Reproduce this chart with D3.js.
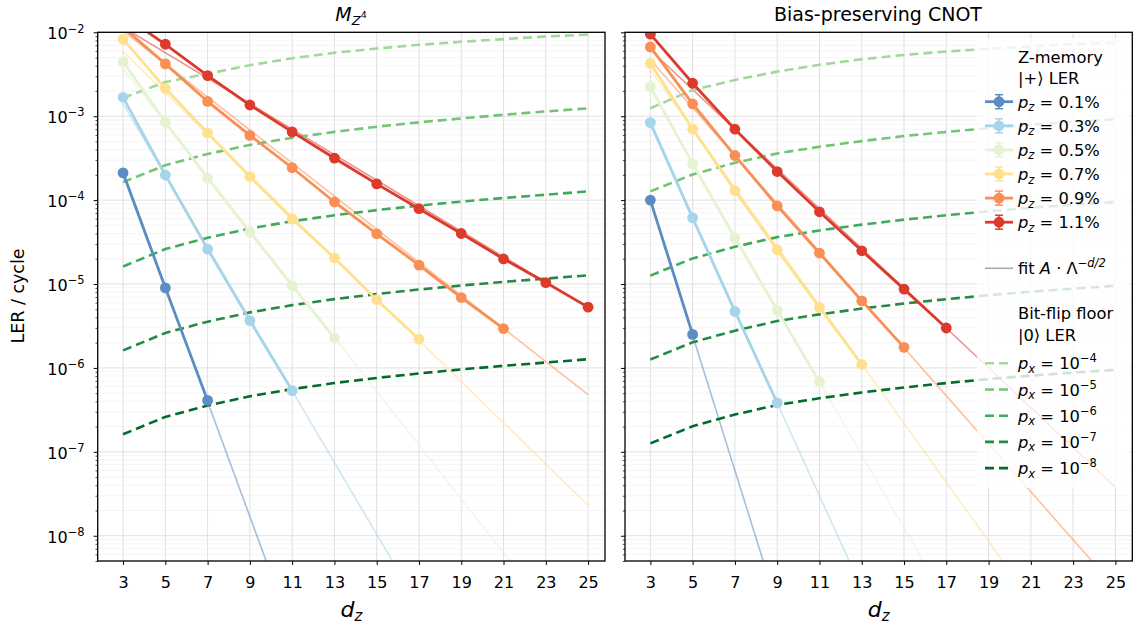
<!DOCTYPE html>
<html>
<head>
<meta charset="utf-8">
<script src="https://cdn.jsdelivr.net/npm/d3@7"></script>
<style>
  body { margin: 0; background: #fff; }
  text { font-family: "DejaVu Sans", sans-serif; fill: #000; }
</style>
</head>
<body>
<svg id="chart" width="1136" height="631"></svg>
<script>
// distances on the x axis
var dz = [3, 5, 7, 9, 11, 13, 15, 17, 19, 21, 23, 25];
var decades = [1e-8, 1e-7, 1e-6, 1e-5, 1e-4, 1e-3, 1e-2];
var decadeExp = ['\u22128', '\u22127', '\u22126', '\u22125', '\u22124', '\u22123', '\u22122'];

var pzLabels = ['0.1%', '0.3%', '0.5%', '0.7%', '0.9%', '1.1%'];
var pxExp = ['\u22124', '\u22125', '\u22126', '\u22127', '\u22128'];

// LER per cycle, starting at d = 3
var lerLeft = [
  [2.11e-4, 9.0e-6, 4.1e-7],
  [1.68e-3, 1.99e-4, 2.61e-5, 3.66e-6, 5.37e-7],
  [4.47e-3, 8.5e-4, 1.83e-4, 4.16e-5, 9.6e-6, 2.28e-6],
  [8.3e-3, 2.15e-3, 6.3e-4, 1.91e-4, 5.98e-5, 2.04e-5, 6.5e-6, 2.2e-6],
  [1.15e-2, 4.2e-3, 1.5e-3, 5.9e-4, 2.43e-4, 9.5e-5, 3.97e-5, 1.68e-5, 6.9e-6, 2.94e-6],
  [1.6e-2, 7.2e-3, 3.05e-3, 1.36e-3, 6.5e-4, 3.16e-4, 1.56e-4, 7.9e-5, 4.0e-5, 1.99e-5, 1.04e-5, 5.3e-6]
];
var lerRight = [
  [1.0e-4, 2.51e-6],
  [8.4e-4, 6.15e-5, 4.72e-6, 3.83e-7],
  [2.25e-3, 2.7e-4, 3.53e-5, 4.85e-6, 6.8e-7],
  [4.27e-3, 7.06e-4, 1.3e-4, 2.56e-5, 5.27e-6, 1.1e-6],
  [6.7e-3, 1.4e-3, 3.4e-4, 8.55e-5, 2.34e-5, 6.3e-6, 1.76e-6],
  [9.5e-3, 2.47e-3, 7.0e-4, 2.19e-4, 7.26e-5, 2.49e-5, 8.7e-6, 2.99e-6]
];

// fit A * Lambda^(-d/2): value at d = 3 and at d = 25
var fitLeft = [
  [2.2e-4, 1.8e-19], [1.41e-3, 5.5e-13], [3.65e-3, 3.3e-10],
  [5.9e-3, 2.3e-8], [1.04e-2, 4.8e-7], [1.15e-2, 5.2e-6]
];
var fitRight = [
  [1.0e-4, 1.9e-22], [7.9e-4, 5.5e-16], [2.07e-3, 5.5e-13],
  [3.55e-3, 6.8e-11], [4.7e-3, 2.4e-9], [6.2e-3, 3.8e-8]
];

// bit-flip floor, px = 1e-4 ... 1e-8
var floorLeft = [
  [1.65e-3, 2.55e-3, 3.2e-3, 4.05e-3, 4.9e-3, 5.7e-3, 6.4e-3, 7.1e-3, 7.7e-3, 8.3e-3, 8.9e-3, 9.4e-3],
  [1.64e-4, 2.6e-4, 3.55e-4, 4.55e-4, 5.55e-4, 6.5e-4, 7.5e-4, 8.45e-4, 9.4e-4, 1.04e-3, 1.14e-3, 1.24e-3],
  [1.62e-5, 2.61e-5, 3.56e-5, 4.59e-5, 5.6e-5, 6.6e-5, 7.6e-5, 8.6e-5, 9.6e-5, 1.06e-4, 1.16e-4, 1.27e-4],
  [1.62e-6, 2.61e-6, 3.56e-6, 4.59e-6, 5.6e-6, 6.6e-6, 7.6e-6, 8.6e-6, 9.6e-6, 1.06e-5, 1.16e-5, 1.27e-5],
  [1.62e-7, 2.61e-7, 3.56e-7, 4.59e-7, 5.6e-7, 6.6e-7, 7.6e-7, 8.6e-7, 9.6e-7, 1.06e-6, 1.16e-6, 1.27e-6]
];
var floorRight = [
  [1.245e-3, 2.05e-3, 2.7e-3, 3.4e-3, 4.1e-3, 4.77e-3, 5.37e-3, 5.9e-3, 6.35e-3, 6.8e-3, 7.2e-3, 7.5e-3],
  [1.27e-4, 2.02e-4, 2.78e-4, 3.6e-4, 4.33e-4, 5.05e-4, 5.8e-4, 6.5e-4, 7.2e-4, 7.9e-4, 8.6e-4, 9.2e-4],
  [1.26e-5, 2.02e-5, 2.78e-5, 3.62e-5, 4.35e-5, 5.1e-5, 5.85e-5, 6.6e-5, 7.35e-5, 8.1e-5, 8.8e-5, 9.5e-5],
  [1.26e-6, 2.02e-6, 2.78e-6, 3.62e-6, 4.35e-6, 5.1e-6, 5.85e-6, 6.6e-6, 7.35e-6, 8.1e-6, 8.8e-6, 9.5e-6],
  [1.26e-7, 2.02e-7, 2.78e-7, 3.62e-7, 4.35e-7, 5.1e-7, 5.85e-7, 6.6e-7, 7.35e-7, 8.1e-7, 8.8e-7, 9.5e-7]
];

var PZ_COLORS = ['#5b8cc3', '#a6d4e8', '#e6f3d3', '#fee08f', '#f98f55', '#dc3a2b'];
var PX_COLORS = ['#a1d99b', '#74c476', '#41ab5d', '#238b45', '#006d2c'];

var TOP = 32.3, BOTTOM = 561;
var TICK_FS = 16;

var svg = d3.select('#chart');
svg.append('rect').attr('width', 1136).attr('height', 631).attr('fill', '#fff');

function supLabel(sel, base, exp, size) {
  sel.text(base);
  sel.append('tspan').attr('dy', -size * 0.42).attr('font-size', size * 0.72).text(exp);
}

function drawPanel(id, left, right, ler, fits, floors, showYLabels) {
  var x = d3.scaleLinear().domain([1.8, 25.8]).range([left, right]);
  var y = d3.scaleLog().domain([5e-9, 1e-2]).range([BOTTOM, TOP]);
  var minor = y.ticks().filter(function(v) {
    return decades.indexOf(v) < 0 && v >= 5e-9 && v <= 1e-2;
  });
  var g = svg.append('g');

  // grid
  g.selectAll('.gminor').data(minor).enter().append('line')
    .attr('x1', left).attr('x2', right)
    .attr('y1', function(d) { return y(d); }).attr('y2', function(d) { return y(d); })
    .attr('stroke', '#f0f0f0').attr('stroke-width', 0.7);
  g.selectAll('.gmajor').data(decades).enter().append('line')
    .attr('x1', left).attr('x2', right)
    .attr('y1', function(d) { return y(d); }).attr('y2', function(d) { return y(d); })
    .attr('stroke', '#dcdcdc').attr('stroke-width', 0.9);
  g.selectAll('.gx').data(dz).enter().append('line')
    .attr('y1', TOP).attr('y2', BOTTOM)
    .attr('x1', function(d) { return x(d); }).attr('x2', function(d) { return x(d); })
    .attr('stroke', '#dcdcdc').attr('stroke-width', 0.9);

  svg.append('clipPath').attr('id', 'clip-' + id)
    .append('rect').attr('x', left).attr('y', TOP)
    .attr('width', right - left).attr('height', BOTTOM - TOP);
  var plot = g.append('g').attr('clip-path', 'url(#clip-' + id + ')');

  var line = d3.line()
    .x(function(d) { return x(d[0]); })
    .y(function(d) { return y(d[1]); });

  // fits
  fits.forEach(function(f, i) {
    plot.append('path').datum([[3, f[0]], [25, f[1]]])
      .attr('d', line).attr('fill', 'none')
      .attr('stroke', PZ_COLORS[i]).attr('stroke-width', 1.6)
      .attr('stroke-opacity', 0.55);
  });

  // floors
  floors.forEach(function(f, i) {
    plot.append('path').datum(f.map(function(v, j) { return [dz[j], v]; }))
      .attr('d', line).attr('fill', 'none')
      .attr('stroke', PX_COLORS[i]).attr('stroke-width', 2.6)
      .attr('stroke-dasharray', '9,5');
  });

  // data
  ler.forEach(function(s, i) {
    var pts = s.map(function(v, j) { return [dz[j], v]; });
    plot.append('path').datum(pts)
      .attr('d', line).attr('fill', 'none')
      .attr('stroke', PZ_COLORS[i]).attr('stroke-width', 2.8);
    plot.selectAll('.pt' + i).data(pts).enter().append('circle')
      .attr('cx', function(d) { return x(d[0]); })
      .attr('cy', function(d) { return y(d[1]); })
      .attr('r', 5.4).attr('fill', PZ_COLORS[i]);
  });

  // axes
  var xa = g.append('g').attr('transform', 'translate(0,' + BOTTOM + ')')
    .call(d3.axisBottom(x).tickValues(dz).tickSize(4).tickSizeOuter(0).tickPadding(12));
  xa.select('.domain').remove();
  xa.selectAll('text').attr('font-size', TICK_FS).attr('font-family', '"DejaVu Sans", sans-serif');
  xa.selectAll('line').attr('stroke', '#000').attr('stroke-width', 1);

  var ya = g.append('g').attr('transform', 'translate(' + left + ',0)')
    .call(d3.axisLeft(y).tickValues(decades).tickSize(4).tickSizeOuter(0).tickFormat(function() { return ''; }));
  ya.select('.domain').remove();
  ya.selectAll('line').attr('stroke', '#000').attr('stroke-width', 1);
  var ym = g.append('g').attr('transform', 'translate(' + left + ',0)')
    .call(d3.axisLeft(y).tickValues(minor).tickSize(2.2).tickSizeOuter(0).tickFormat(function() { return ''; }));
  ym.select('.domain').remove();
  ym.selectAll('line').attr('stroke', '#000').attr('stroke-width', 0.7);

  if (showYLabels) {
    decades.forEach(function(v, i) {
      var t = g.append('text').attr('x', left - 13).attr('y', y(v) + 7)
        .attr('text-anchor', 'end').attr('font-size', TICK_FS);
      supLabel(t, '10', decadeExp[i], TICK_FS);
    });
  }

  // frame
  g.append('rect').attr('x', left).attr('y', TOP)
    .attr('width', right - left).attr('height', BOTTOM - TOP)
    .attr('fill', 'none').attr('stroke', '#000').attr('stroke-width', 1.3);

  // x label
  var xl = g.append('text').attr('x', (left + right) / 2).attr('y', 617)
    .attr('text-anchor', 'middle').attr('font-size', 22);
  xl.append('tspan').attr('font-style', 'italic').text('d');
  xl.append('tspan').attr('font-style', 'italic').attr('font-size', 15).attr('dy', 4).text('z');

  return {x: x, y: y, g: g};
}

drawPanel('l', 97.7, 605, lerLeft, fitLeft, floorLeft, true);
drawPanel('r', 625, 1132.3, lerRight, fitRight, floorRight, false);

// titles
var t1 = svg.append('text').attr('x', 351).attr('y', 21)
  .attr('text-anchor', 'middle').attr('font-size', 19);
t1.append('tspan').attr('font-style', 'italic').text('M');
t1.append('tspan').attr('font-style', 'italic').attr('font-size', 13).attr('dy', 4).text('Z');
t1.append('tspan').attr('font-size', 9.5).attr('dy', -7).text('4');
svg.append('text').attr('x', 878).attr('y', 21)
  .attr('text-anchor', 'middle').attr('font-size', 19).text('Bias-preserving CNOT');

// y label
svg.append('text').attr('transform', 'translate(24,296) rotate(-90)')
  .attr('text-anchor', 'middle').attr('font-size', 17.5).text('LER / cycle');

// legend
var lg = svg.append('g');
lg.append('rect').attr('x', 977).attr('y', 38).attr('width', 153).attr('height', 450)
  .attr('rx', 3).attr('fill', '#fff').attr('fill-opacity', 0.8);
var HX0 = 985, HX1 = 1013, TX = 1018, FS = 16.3;

function legendText(yc) {
  return lg.append('text').attr('x', TX).attr('y', yc + 6).attr('font-size', FS);
}
legendText(56.7).text('Z-memory');
legendText(78).text('|+\u27E9 LER');

pzLabels.forEach(function(lab, i) {
  var yc = 101.7 + i * 24.1;
  var c = PZ_COLORS[i];
  lg.append('line').attr('x1', HX0).attr('x2', HX1).attr('y1', yc).attr('y2', yc)
    .attr('stroke', c).attr('stroke-width', 2.8);
  var mx = (HX0 + HX1) / 2;
  lg.append('line').attr('x1', mx).attr('x2', mx).attr('y1', yc - 7).attr('y2', yc + 7)
    .attr('stroke', c).attr('stroke-width', 1.5);
  [yc - 7, yc + 7].forEach(function(cy) {
    lg.append('line').attr('x1', mx - 4).attr('x2', mx + 4).attr('y1', cy).attr('y2', cy)
      .attr('stroke', c).attr('stroke-width', 1.5);
  });
  lg.append('circle').attr('cx', mx).attr('cy', yc).attr('r', 5.4).attr('fill', c);
  var t = legendText(yc);
  t.append('tspan').attr('font-style', 'italic').text('p');
  t.append('tspan').attr('font-style', 'italic').attr('font-size', 11.5).attr('dy', 3.5).text('z');
  t.append('tspan').attr('dy', -3.5).text(' = ' + lab);
});

// fit entry
lg.append('line').attr('x1', HX0).attr('x2', HX1).attr('y1', 268.3).attr('y2', 268.3)
  .attr('stroke', '#aaaaaa').attr('stroke-width', 1.6);
var ft = legendText(268.3);
ft.append('tspan').text('fit ');
ft.append('tspan').attr('font-style', 'italic').text('A');
ft.append('tspan').text(' \u00B7 \u039B');
ft.append('tspan').attr('font-size', 11.5).attr('dy', -7).attr('font-style', 'italic').text('\u2212d/2');

legendText(313.3).text('Bit-flip floor');
legendText(335).text('|0\u27E9 LER');

pxExp.forEach(function(e, i) {
  var yc = 363.3 + i * 26.2;
  lg.append('line').attr('x1', HX0).attr('x2', HX1).attr('y1', yc).attr('y2', yc)
    .attr('stroke', PX_COLORS[i]).attr('stroke-width', 2.6).attr('stroke-dasharray', '9,5');
  var t = legendText(yc);
  t.append('tspan').attr('font-style', 'italic').text('p');
  t.append('tspan').attr('font-style', 'italic').attr('font-size', 11.5).attr('dy', 3.5).text('x');
  t.append('tspan').attr('dy', -3.5).text(' = 10');
  t.append('tspan').attr('font-size', 11.5).attr('dy', -7).text(e);
});
</script>
</body>
</html>
